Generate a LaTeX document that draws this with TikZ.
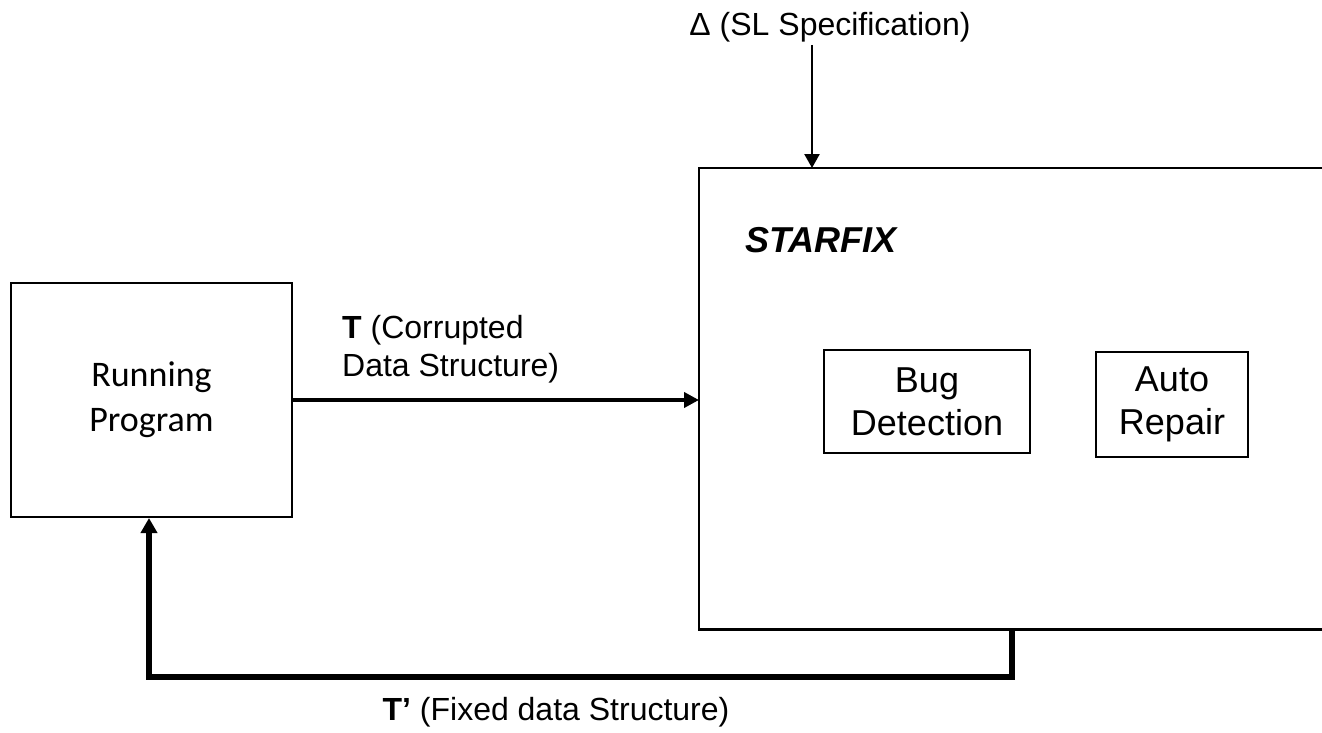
\documentclass[tikz,border=0pt]{standalone}
\usepackage{fontspec}
\setmainfont{Liberation Sans}
\newfontfamily\calibrifont{Carlito}
\usetikzlibrary{arrows.meta,calc}
\begin{document}
\begin{tikzpicture}[x=1pt,y=1pt,
  boxline/.style={draw=black,line width=2pt},
  lbl/.style={inner sep=0pt,font=\fontsize{32}{38}\selectfont},
  inner/.style={boxline,inner sep=0pt,align=center,font=\fontsize{36}{43}\selectfont},
  thin arrow/.style={line width=2.5pt,-{Triangle[length=14pt,width=15pt]}},
  mid arrow/.style={line width=4pt,-{Triangle[length=15pt,width=15pt]}},
  thick arrow/.style={line width=6pt,line join=miter,-{Triangle[length=15pt,width=16pt]}}]
\clip (0,0) rectangle (1322,-733);
\fill[white] (0,0) rectangle (1322,-733);

% Running Program
\node[boxline,minimum width=281pt,minimum height=234pt,inner sep=0pt,align=center,
      font=\calibrifont\fontsize{36}{45}\selectfont] (run) at (151.5,-400) {Running\\Program};

% STARFIX frame (open to the right)
\node[draw=none,minimum width=660pt,minimum height=461pt,inner sep=0pt,anchor=north west] (sfx) at (699,-168) {};
\draw[line width=2.5pt] (sfx.north east) -- (sfx.north west) -- (sfx.south west) -- (sfx.south east);
\node[inner sep=0pt,anchor=west,font=\fontsize{36}{43}\selectfont\bfseries\itshape] (sfxlbl) at (745,-240) {STARFIX};

% inner boxes
\node[inner,minimum width=206pt,minimum height=103pt] (bug) at (927,-401.5) {Bug\\Detection};
\node[inner,minimum width=152pt,minimum height=105pt] (rep) at (1172,-404.5) {Auto\\Repair};

% Delta input
\node[lbl] (delta) at (830,-27) {Δ (SL Specification)};
\coordinate (dsrc) at (812,-45);
\draw[thin arrow] (dsrc) -- (dsrc |- sfx.north);

% T arrow
\draw[mid arrow] (run.east) -- (run.east -| sfx.west);
\node[lbl,anchor=west,align=left] (tlbl) at (342,-349) {\textbf{T} (Corrupted\\Data Structure)};

% feedback
\coordinate (fb) at (1012,-629);
\coordinate (fbend) at (149,-677);
\draw[thick arrow] (fb) -- (fb |- fbend) -| (run.south -| fbend);
\node[lbl] (tplbl) at (556,-712) {\textbf{T’} (Fixed data Structure)};
\end{tikzpicture}
\end{document}
